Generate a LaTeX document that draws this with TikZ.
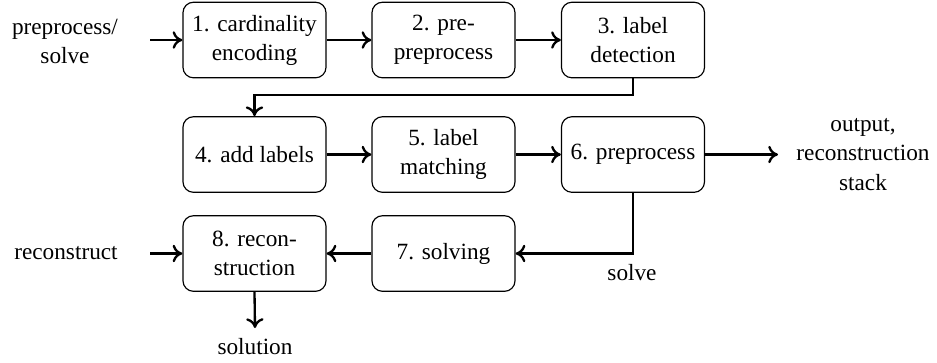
\documentclass[tikz,border=0pt]{standalone}
\usepackage{fontspec}
\setmainfont{LiberationSerif}[Extension=.ttf,UprightFont=*-Regular,BoldFont=*-Bold]
\usetikzlibrary{arrows.meta}
\begin{document}
\begin{tikzpicture}[x=0.43pt,y=-0.43pt,
  box/.style={draw,line width=0.5pt,rounded corners=4.5pt,minimum width=61.5pt,minimum height=32.5pt,align=center,inner sep=1pt,font=\fontsize{10}{12.5}\selectfont},
  lbl/.style={align=center,inner sep=0pt,font=\fontsize{10}{12.5}\selectfont},
  conn/.style={-{To[length=4.2pt,width=7.5pt]},line width=1pt}]
\useasboundingbox (0,0) rectangle (937,362);
\node[box] (b1) at (254.5,40) {1. cardinality\\encoding};
\node[box] (b2) at (443.5,40) {2. pre-\\preprocess};
\node[box] (b3) at (633,40) {3. label\\detection};
\node[box] (b4) at (254.5,154.5) {4. add labels};
\node[box] (b5) at (443.5,154.5) {5. label\\matching};
\node[box] (b6) at (633,154.5) {6. preprocess};
\node[box] (b7) at (443.5,253.5) {7. solving};
\node[box] (b8) at (254.5,253.5) {8. recon-\\struction};
\node[lbl] (in1) at (65,41) {preprocess/\\solve};
\coordinate (s1) at (150,40);
\node[lbl] (in2) at (66,253) {reconstruct};
\coordinate (s2) at (150,253.5);
\node[lbl] (out) at (863,154.5) {output,\\reconstruction\\stack};
\coordinate (e1) at (778,154.5);
\node[lbl] (sol) at (255,347) {solution};
\coordinate (e2) at (255,328);
\coordinate (k1) at (633,95);
\coordinate (k2) at (633,253.5);
\node[lbl] (slv) at (632,273) {solve};
\draw[conn] (s1) -- (b1);
\draw[conn] (b1) -- (b2);
\draw[conn] (b2) -- (b3);
\draw[conn] (b3.south) -- (k1) -| (b4.north);
\draw[conn] (b4) -- (b5);
\draw[conn] (b5) -- (b6);
\draw[conn] (b6) -- (e1);
\draw[conn] (b6.south) -- (k2) -- (b7.east);
\draw[conn] (b7) -- (b8);
\draw[conn] (s2) -- (b8);
\draw[conn] (b8.south) -- (e2);
\end{tikzpicture}
\end{document}
